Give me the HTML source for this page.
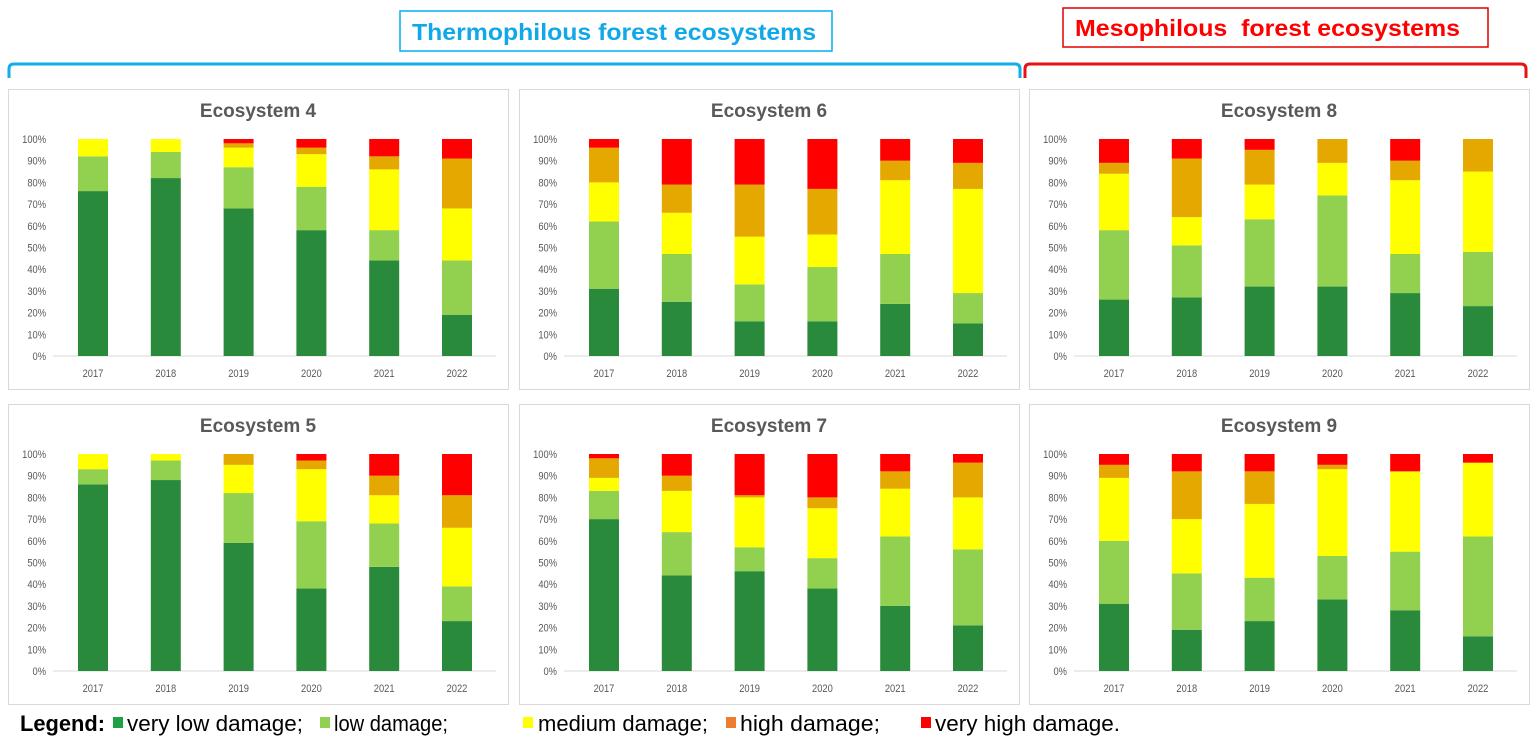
<!DOCTYPE html>
<html><head><meta charset="utf-8"><style>
body{margin:0;background:#fff;width:1535px;height:747px;overflow:hidden;font-family:"Liberation Sans",sans-serif}
</style></head><body>
<svg id="s" width="1535" height="747" xmlns="http://www.w3.org/2000/svg" font-family="Liberation Sans, sans-serif">
<rect x="400" y="11" width="432" height="40" fill="#fff" stroke="#00b0f0" stroke-width="1.5"/>
<text x="412" y="40" font-size="23" font-weight="bold" fill="#10a8e8" textLength="404" lengthAdjust="spacingAndGlyphs">Thermophilous forest ecosystems</text>
<rect x="1063" y="8" width="425" height="39" fill="#fff" stroke="#e00000" stroke-width="1.5"/>
<text x="1075" y="36" font-size="23" font-weight="bold" fill="#ff0000" textLength="385" lengthAdjust="spacingAndGlyphs" xml:space="preserve">Mesophilous  forest ecosystems</text>
<path d="M9,78 V69 Q9,64 14,64 H1015 Q1020,64 1020,69 V78" fill="none" stroke="#12aee8" stroke-width="3"/>
<path d="M1025,78 V69 Q1025,64 1030,64 H1521 Q1526,64 1526,69 V78" fill="none" stroke="#e81010" stroke-width="3"/>
<g id="p"></g>
<g font-size="22">
<text x="20" y="731" font-weight="bold" textLength="85" lengthAdjust="spacingAndGlyphs">Legend:</text>
<rect x="113" y="717" width="10" height="11" fill="#1ea045"/><text x="127" y="731" textLength="176" lengthAdjust="spacingAndGlyphs">very low damage;</text>
<rect x="320" y="717" width="10" height="11" fill="#92d050"/><text x="334" y="731" textLength="114" lengthAdjust="spacingAndGlyphs">low damage;</text>
<rect x="523" y="717" width="10" height="11" fill="#ffff00"/><text x="538" y="731" textLength="170" lengthAdjust="spacingAndGlyphs">medium damage;</text>
<rect x="726" y="717" width="10" height="11" fill="#ed7d31"/><text x="740" y="731" textLength="140" lengthAdjust="spacingAndGlyphs">high damage;</text>
<rect x="921" y="717" width="10" height="11" fill="#ff0000"/><text x="935" y="731" textLength="185" lengthAdjust="spacingAndGlyphs">very high damage.</text>
</g>
</svg>
<script>
var cols=["#2a8a3c","#92d050","#ffff00","#e5a800","#ff0000"];
var P=[
["Ecosystem 4",8,89,[[76,92,100,100,100],[82,94,100,100,100],[68,87,96,98,100],[58,78,93,96,100],[44,58,86,92,100],[19,44,68,91,100]]],
["Ecosystem 6",519,89,[[31,62,80,96,100],[25,47,66,79,100],[16,33,55,79,100],[16,41,56,77,100],[24,47,81,90,100],[15,29,77,89,100]]],
["Ecosystem 8",1029,89,[[26,58,84,89,100],[27,51,64,91,100],[32,63,79,95,100],[32,74,89,100,100],[29,47,81,90,100],[23,48,85,100,100]]],
["Ecosystem 5",8,404,[[86,93,100,100,100],[88,97,100,100,100],[59,82,95,100,100],[38,69,93,97,100],[48,68,81,90,100],[23,39,66,81,100]]],
["Ecosystem 7",519,404,[[70,83,89,98,100],[44,64,83,90,100],[46,57,80,81,100],[38,52,75,80,100],[30,62,84,92,100],[21,56,80,96,100]]],
["Ecosystem 9",1029,404,[[31,60,89,95,100],[19,45,70,92,100],[23,43,77,92,100],[33,53,93,95,100],[28,55,92,92,100],[16,62,96,96,100]]]];
var h='';
P.forEach(function(p){
 var x=p[1],y=p[2],b=y+267,t=y+50,H=b-t;
 h+='<rect x="'+(x+0.5)+'" y="'+(y+0.5)+'" width="500" height="300" fill="#fff" stroke="#d9d9d9"/>';
 h+='<text x="'+(x+250)+'" y="'+(y+28)+'" text-anchor="middle" font-size="19" font-weight="bold" fill="#595959">'+p[0]+'</text>';
 for(var i=0;i<=10;i++){var yy=b-H*i/10;h+='<text x="'+(x+38)+'" y="'+(yy+4)+'" text-anchor="end" font-size="11" fill="#595959" transform="translate('+(x+38)+',0) scale(0.85,1) translate('+(-(x+38))+',0)">'+(i*10)+'%</text>';}
 h+='<line x1="'+(x+45)+'" x2="'+(x+488)+'" y1="'+b+'" y2="'+b+'" stroke="#d9d9d9"/>';
 p[3].forEach(function(d,j){
  var cx=x+85+j*72.8,prev=0;
  d.forEach(function(v,k){if(v>prev){var y1=b-H*v/100,y0=b-H*prev/100;h+='<rect x="'+(cx-15)+'" y="'+y1+'" width="30" height="'+(y0-y1)+'" fill="'+cols[k]+'"/>';}prev=v;});
  h+='<text x="'+cx+'" y="'+(b+21)+'" text-anchor="middle" font-size="11" fill="#595959" transform="translate('+cx+',0) scale(0.85,1) translate('+(-cx)+',0)">'+(2017+j)+'</text>';
 });
});
document.getElementById('p').innerHTML=h;
</script>
</body></html>
